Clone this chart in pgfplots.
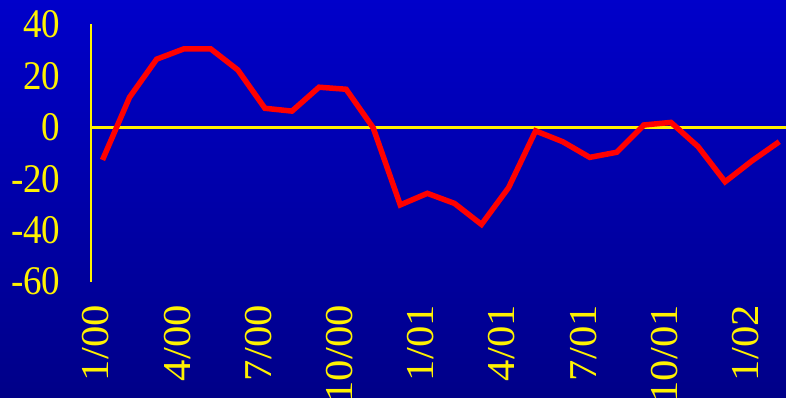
\documentclass[border=0pt]{standalone}
\usepackage{fontspec}
\setmainfont{Liberation Serif}
\usepackage{graphicx}
\usepackage{pgfplots}
\pgfplotsset{compat=1.18}
\definecolor{bgtop}{RGB}{0,0,202}
\definecolor{bgbot}{RGB}{0,0,136}
\newcommand{\yl}[1]{\scalebox{1}[1.1]{#1}}
\newcommand{\xl}[1]{\scalebox{1.08}[1]{#1}}
\begin{document}
\begin{tikzpicture}
\useasboundingbox (0,0) rectangle (786pt,397pt);
\clip (0,0) rectangle (786pt,397pt);
\shade[top color=bgtop, bottom color=bgbot] (0,0) rectangle (786pt,397pt);
\begin{axis}[
  at={(90.7pt,115.5pt)}, anchor=south west,
  scale only axis,
  width=695.3pt, height=257pt,
  xmin=-0.436, xmax=25.25,
  ymin=-60, ymax=40,
  axis x line=bottom,
  axis y line=left,
  x axis line style={draw=none},
  y axis line style={yellow, line width=2pt, -},
  major tick length=0pt,
  ytick={-60,-40,-20,0,20,40},
  yticklabels={\yl{-60},\yl{-40},\yl{-20},\yl{0},\yl{20},\yl{40}},
  xtick={-0.24,2.76,5.76,8.76,11.76,14.76,17.76,20.76,23.76},
  xticklabels={\xl{1/00},\xl{4/00},\xl{7/00},\xl{10/00},\xl{1/01},\xl{4/01},\xl{7/01},\xl{10/01},\xl{1/02}},
  yticklabel style={text=yellow, font=\fontsize{37}{37}\selectfont, inner sep=0pt, anchor=east, xshift=-30pt},
  xticklabel style={text=yellow, font=\fontsize{39.5}{39.5}\selectfont, inner sep=0pt, rotate=90, anchor=east},
  xticklabel shift=23.5pt,
  extra y ticks={0},
  extra y tick labels={},
  extra y tick style={grid=major, major grid style={yellow, line width=2.8pt}},
  clip=false,
]
\addplot[red, line width=5.5pt, line join=miter] coordinates {
(0,-12.7) (1,11.7) (2,26.5) (3,30.5) (4,30.5) (5,22.3) (6,7.4) (7,6.3)
(8,15.6) (9,14.8) (10,-0.2) (11,-30.2) (12,-25.7) (13,-29.6) (14,-37.8)
(15,-23.5) (16,-1.4) (17,-5.6) (18,-11.7) (19,-9.7) (20,0.9) (21,1.9)
(22,-7.5) (23,-21.2) (24,-13.0) (25,-5.6)
};
\end{axis}
\end{tikzpicture}
\end{document}
